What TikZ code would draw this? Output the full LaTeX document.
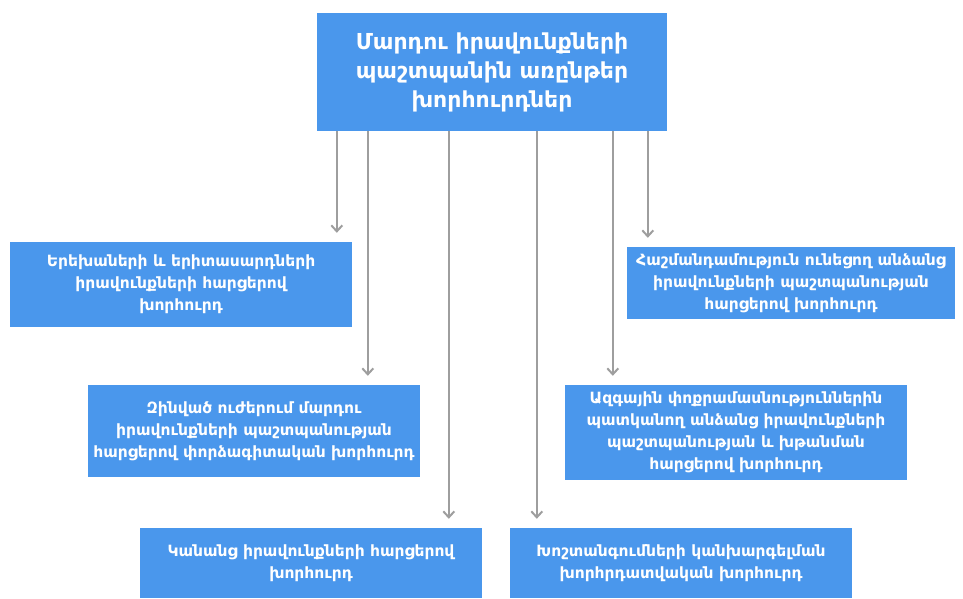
\documentclass[tikz,border=0pt]{standalone}
\usepackage{fontspec}
\newfontfamily\armfont{DejaVu Sans}
\usetikzlibrary{arrows.meta}
\definecolor{boxblue}{RGB}{74,151,236}
\definecolor{arrgray}{RGB}{158,158,158}
\newcommand{\clrbox}{boxblue}
\newcommand{\clrarr}{arrgray}

\begin{document}
\begin{tikzpicture}[x=1pt, y=-1pt,
    board/.style={fill=\clrbox, text=white, align=center, inner sep=0pt,
        font=\armfont\bfseries\fontsize{15.5}{22}\selectfont},
    link/.style={draw=\clrarr, line width=2pt,
        -{Straight Barb[length=6pt,width=11pt]}, shorten >=9pt}]
    \useasboundingbox (0,0) rectangle (963,598);
%top
    \node[board, minimum width=350pt, minimum height=118pt,
        font=\armfont\bfseries\fontsize{22}{29}\selectfont] (council) at (492,72)
        {Մարդու իրավունքների\\պաշտպանին առընթեր\\խորհուրդներ};
%left
    \node[board, minimum width=342pt, minimum height=85pt] (kids) at (181,284.5)
        {Երեխաների և երիտասարդների\\իրավունքների հարցերով\\խորհուրդ};
    \node[board, minimum width=332pt, minimum height=92pt] (army) at (254,431)
        {Զինված ուժերում մարդու\\իրավունքների պաշտպանության\\հարցերով փորձագիտական խորհուրդ};
    \node[board, minimum width=342pt, minimum height=70pt] (women) at (311,563)
        {Կանանց իրավունքների հարցերով\\խորհուրդ};
%right
    \node[board, minimum width=328pt, minimum height=72pt] (disab) at (791,283)
        {Հաշմանդամություն ունեցող անձանց\\իրավունքների պաշտպանության\\հարցերով խորհուրդ};
    \node[board, minimum width=342pt, minimum height=95pt] (minor) at (736,432.5)
        {Ազգային փոքրամասնություններին\\պատկանող անձանց իրավունքների\\պաշտպանության և խթանման\\հարցերով խորհուրդ};
    \node[board, minimum width=342pt, minimum height=70pt] (torture) at (681,563)
        {Խոշտանգումների կանխարգելման\\խորհրդատվական խորհուրդ};
%arrows
    \foreach \dx/\b in {20/kids,51/army,132/women,220/torture,296/minor,331/disab} {
        \coordinate (s\b) at ([xshift=\dx pt]council.south west);
        \draw[link] (s\b) -- (s\b |- \b.north);
    }
\end{tikzpicture}
\end{document}
